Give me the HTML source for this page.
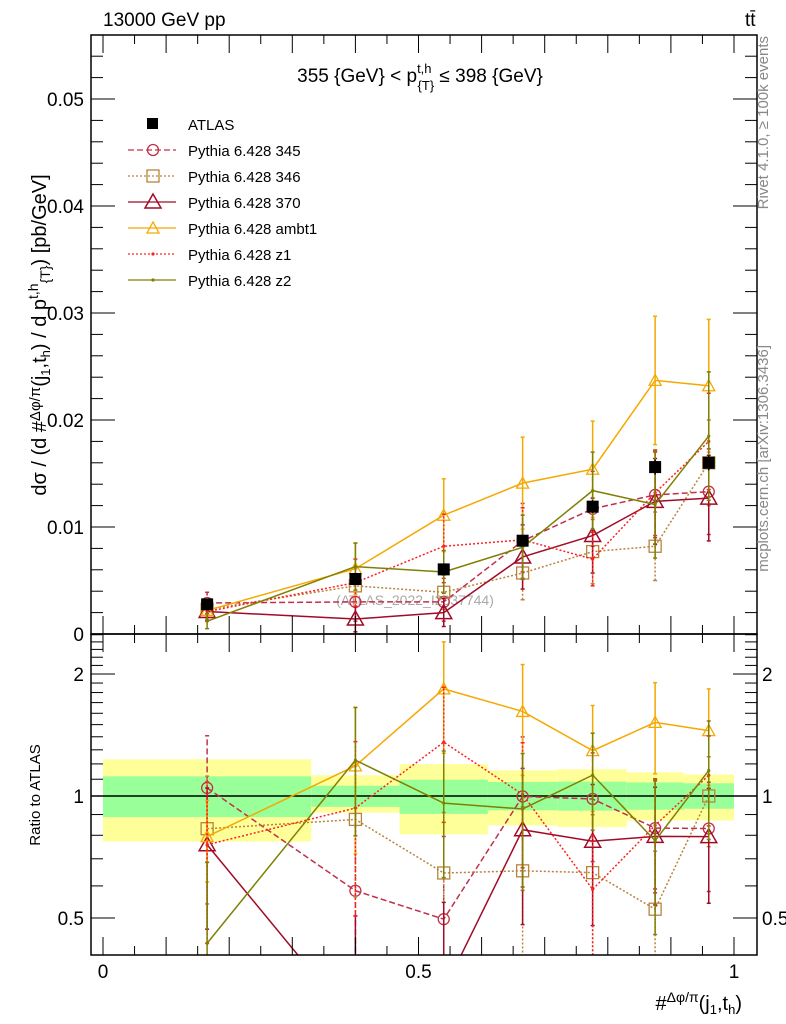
<!DOCTYPE html>
<html><head><meta charset="utf-8"><style>
html,body{margin:0;background:#fff;width:786px;height:1024px;overflow:hidden}
svg{display:block;font-family:"Liberation Sans",sans-serif}
</style></head><body>
<svg id="c" width="786" height="1024" viewBox="0 0 786 1024"></svg>
<script>
const binEdges=[0,0.33,0.47,0.61,0.72,0.83,0.92,1.0];
const xCenters=[0.165,0.40,0.54,0.665,0.776,0.875,0.96];
const atlas=[0.00277,0.00514,0.00604,0.00872,0.0119,0.0156,0.0160];
const atlasErr=[0.0003,0.0004,0.0004,0.0005,0.0006,0.0007,0.0007];
const bandYellowHi=[1.232,1.125,1.198,1.157,1.164,1.144,1.13];
const bandYellowLo=[0.772,0.91,0.804,0.846,0.838,0.87,0.87];
const bandGreenHi=[1.118,1.06,1.097,1.083,1.085,1.08,1.075];
const bandGreenLo=[0.887,0.94,0.903,0.922,0.92,0.925,0.93];
const s345=[0.0029,0.0030,0.0030,0.0087,0.0117,0.0130,0.0133];
const e345=[0.0010,0.0018,0.0018,0.0035,0.0035,0.0040,0.0040];
const s346=[0.0023,0.0045,0.0039,0.0057,0.0077,0.0082,0.0160];
const e346=[0.0008,0.0016,0.0016,0.0025,0.0030,0.0032,0.0040];
const s370=[0.0021,0.0014,0.0020,0.0072,0.0092,0.0124,0.0127];
const e370=[0.0008,0.0012,0.0013,0.0030,0.0035,0.0040,0.0040];
const sAmbt1=[0.0022,0.0061,0.0111,0.0141,0.0154,0.0237,0.0232];
const eAmbt1=[0.0005,0.0024,0.0034,0.0043,0.0045,0.0060,0.0062];
const sZ1=[0.0021,0.0048,0.0082,0.0088,0.0070,0.0132,0.0180];
const eZ1=[0.0009,0.0022,0.0030,0.0030,0.0025,0.0040,0.0045];
const sZ2=[0.0012,0.0063,0.0058,0.0081,0.0134,0.0121,0.0185];
const eZ2=[0.0007,0.0022,0.0020,0.0030,0.0036,0.0050,0.0060];
const mainTicks=[0,0.01,0.02,0.03,0.04,0.05];
const mainTickLabels=["0","0.01","0.02","0.03","0.04","0.05"];
const ratioTicks=[0.5,1,2];
const ratioTickLabels=["0.5","1","2"];
const xTicks=[0,0.5,1];
const xTickLabels=["0","0.5","1"];

const NS="http://www.w3.org/2000/svg";
const svg=document.getElementById('c');
const L=91,R=757,T=35,M=634,B=955;
const X=v=>103+631*v;
const Y=v=>634-10700*v;
const YR=r=>796-122*Math.log2(r);
function el(tag,attrs,parent){const e=document.createElementNS(NS,tag);for(const k in attrs)e.setAttribute(k,attrs[k]);(parent||svg).appendChild(e);return e;}
function txt(s,attrs,parent){const e=el('text',attrs,parent);e.textContent=s;return e;}

const defs=el('defs',{});
const c1=el('clipPath',{id:'cm'},defs);el('rect',{x:L,y:T,width:R-L,height:M-T},c1);
const c2=el('clipPath',{id:'cr'},defs);el('rect',{x:L,y:M,width:R-L,height:B-M},c2);

const bands=el('g',{'clip-path':'url(#cr)'});


for(let i=0;i<xCenters.length;i++){
  const x0=X(binEdges[i]),x1=X(binEdges[i+1]);
  const yb=el('rect',{x:x0,y:YR(bandYellowHi[i]),width:x1-x0,height:YR(bandYellowLo[i])-YR(bandYellowHi[i]),fill:'#ffff99'},bands);
  
  
  const gb=el('rect',{x:x0,y:YR(bandGreenHi[i]),width:x1-x0,height:YR(bandGreenLo[i])-YR(bandGreenHi[i]),fill:'#99ff99'},bands);
  
  
}
el('line',{x1:L,x2:R,y1:YR(1),y2:YR(1),stroke:'#000','stroke-width':1.5});

const series=[
 {name:'Pythia 6.428 345',key:'p345',v:s345,e:e345,col:'#c0304a',dash:'6,3',mk:'circle'},
 {name:'Pythia 6.428 346',key:'p346',v:s346,e:e346,col:'#b8843a',dash:'2,2',mk:'square'},
 {name:'Pythia 6.428 370',key:'p370',v:s370,e:e370,col:'#a00c28',dash:'',mk:'tri'},
 {name:'Pythia 6.428 ambt1',key:'ambt1',v:sAmbt1,e:eAmbt1,col:'#f5a800',dash:'',mk:'tris'},
 {name:'Pythia 6.428 z1',key:'z1',v:sZ1,e:eZ1,col:'#ff2020',dash:'2,2',mk:'dot'},
 {name:'Pythia 6.428 z2',key:'z2',v:sZ2,e:eZ2,col:'#7f8000',dash:'',mk:'dot'}
];
function marker(g,type,x,y,col){
  if(type==='circle')el('circle',{cx:x,cy:y,r:5.5,fill:'none',stroke:col,'stroke-width':1.3},g);
  else if(type==='square')el('rect',{x:x-6,y:y-6,width:12,height:12,fill:'none',stroke:col,'stroke-width':1.3},g);
  else if(type==='tri')el('polygon',{points:`${x},${y-8} ${x-8},${y+6} ${x+8},${y+6}`,fill:'none',stroke:col,'stroke-width':1.5},g);
  else if(type==='tris')el('polygon',{points:`${x},${y-6} ${x-6},${y+5} ${x+6},${y+5}`,fill:'none',stroke:col,'stroke-width':1.3},g);
  else el('circle',{cx:x,cy:y,r:1.6,fill:col},g);
}
function drawSeries(s,Yf,vals,errs,clip,part){
  const g=el('g',{'clip-path':clip});
  
  
  vals.forEach((v,i)=>{
    const x=X(xCenters[i]);
    const lo=Math.max(v-errs[i],1e-6),hi=v+errs[i];
    el('line',{x1:x,x2:x,y1:Yf(lo),y2:Yf(hi),stroke:s.col,'stroke-width':1.5,'stroke-dasharray':s.dash},g);
    el('line',{x1:x-2,x2:x+2,y1:Yf(hi),y2:Yf(hi),stroke:s.col,'stroke-width':1.5},g);
    el('line',{x1:x-2,x2:x+2,y1:Yf(lo),y2:Yf(lo),stroke:s.col,'stroke-width':1.5},g);
  });
  el('polyline',{points:vals.map((v,i)=>X(xCenters[i])+','+Yf(Math.max(v,1e-6))).join(' '),fill:'none',stroke:s.col,'stroke-width':1.5,'stroke-dasharray':s.dash},g);
  vals.forEach((v,i)=>marker(g,s.mk,X(xCenters[i]),Yf(v),s.col));
}
const wm=txt('(ATLAS_2022_I2037744)',{x:415,y:605,'font-size':14,fill:'#aaa','text-anchor':'middle'});


series.forEach(s=>{
  drawSeries(s,Y,s.v,s.e,'url(#cm)','main');
  drawSeries(s,YR,s.v.map((v,i)=>v/atlas[i]),s.e.map((e,i)=>e/atlas[i]),'url(#cr)','ratio');
});
const ag=el('g',{'clip-path':'url(#cm)'});


atlas.forEach((v,i)=>{const x=X(xCenters[i]);
  el('line',{x1:x,x2:x,y1:Y(v-atlasErr[i]),y2:Y(v+atlasErr[i]),stroke:'#000','stroke-width':1.5},ag);
  el('rect',{x:x-6,y:Y(v)-6,width:12,height:12,fill:'#000'},ag);});

el('rect',{x:L,y:T,width:R-L,height:M-T,fill:'none',stroke:'#000','stroke-width':1.5});
el('rect',{x:L,y:M,width:R-L,height:B-M,fill:'none',stroke:'#000','stroke-width':1.5});
const axg=el('g',{});

for(let k=0;k<=27;k++){const v=k*0.002,y=Y(v);if(y<T)break;const maj=k%5===0;const len=maj?24:12;
  el('line',{x1:L,x2:L+len,y1:y,y2:y,stroke:'#000'},axg);el('line',{x1:R-len,x2:R,y1:y,y2:y,stroke:'#000'},axg);}
mainTicks.forEach((v,i)=>{const t=txt(mainTickLabels[i],{x:84,y:Y(v)+7,'font-size':19,'text-anchor':'end'},axg);
  });
for(let k=5;k<=25;k++){const r=k/10,y=YR(r);if(y<M||y>B)continue;const maj=(k===5||k===10||k===20);const len=maj?24:12;
  el('line',{x1:L,x2:L+len,y1:y,y2:y,stroke:'#000'},axg);el('line',{x1:R-len,x2:R,y1:y,y2:y,stroke:'#000'},axg);}
ratioTicks.forEach((v,i)=>{
  const t=txt(ratioTickLabels[i],{x:84,y:YR(v)+7,'font-size':19,'text-anchor':'end'},axg);
  
  const t2=txt(ratioTickLabels[i],{x:762,y:YR(v)+7,'font-size':19},axg);
  });
for(let k=-1;k<=21;k++){const v=k*0.05,x=X(v);if(x<L||x>R)continue;const maj=k%2===0;const len=maj?18:9;
  [T,M].forEach(y0=>el('line',{x1:x,x2:x,y1:y0,y2:y0+len,stroke:'#000'},axg));
  [M,B].forEach(y0=>el('line',{x1:x,x2:x,y1:y0-len,y2:y0,stroke:'#000'},axg));}
xTicks.forEach((v,i)=>{const t=txt(xTickLabels[i],{x:X(v),y:978,'font-size':19,'text-anchor':'middle'},axg);
  });

const lg=el('g',{});

el('rect',{x:147,y:118,width:11,height:11,fill:'#000'},lg);
txt('ATLAS',{x:188,y:130,'font-size':15},lg);
series.forEach((s,i)=>{const y=150+26*i;
  const e=el('g',{},lg);
  
  el('line',{x1:128,x2:176,y1:y,y2:y,stroke:s.col,'stroke-width':1.3,'stroke-dasharray':s.dash},e);
  marker(e,s.mk,153,y,s.col);
  txt(s.name,{x:188,y:y+6,'font-size':15},e);});

function T2(s,a,name){const t=txt(s,a);return t;}
T2('13000 GeV pp',{x:103,y:26,'font-size':19},'energy-label');
T2('tt̄',{x:745,y:26,'font-size':19},'process-label');
const ti=T2('',{x:420,y:82,'font-size':19,'text-anchor':'middle'},'plot-title');
ti.innerHTML='355 {GeV} &lt; p<tspan dy="-9" font-size="13">t,h</tspan><tspan dx="-14" dy="17" font-size="13">{T}</tspan><tspan dy="-8"> ≤ 398 {GeV}</tspan>';
const yl=T2('',{x:0,y:0,'font-size':20,'text-anchor':'middle',transform:'translate(46,335) rotate(-90)'},'y-axis-title');
yl.innerHTML='dσ / (d #<tspan font-size="15" dy="-6">Δφ/π</tspan><tspan dy="6">(j</tspan><tspan font-size="13" dy="4">1</tspan><tspan dy="-4">,t</tspan><tspan font-size="13" dy="4">h</tspan><tspan dy="-4">) / d p</tspan><tspan font-size="14" dy="-8">t,h</tspan><tspan font-size="14" dy="12">{T}</tspan><tspan dy="-4">) [pb/GeV]</tspan>';
T2('Ratio to ATLAS',{x:0,y:0,'font-size':15,'text-anchor':'middle',transform:'translate(40,795) rotate(-90)'},'ratio-axis-title');
const xl=T2('',{x:742,y:1010,'font-size':20,'text-anchor':'end'},'x-axis-title');
xl.innerHTML='#<tspan font-size="14" dy="-8">Δφ/π</tspan><tspan dy="8">(j</tspan><tspan font-size="13" dy="4">1</tspan><tspan dy="-4">,t</tspan><tspan font-size="13" dy="4">h</tspan><tspan dy="-4">)</tspan>';
T2('Rivet 4.1.0, ≥ 100k events',{x:0,y:0,'font-size':15,fill:'#888','text-anchor':'end',transform:'translate(768,36) rotate(-90)'},'rivet-label');
T2('mcplots.cern.ch [arXiv:1306.3436]',{x:0,y:0,'font-size':15,fill:'#888','text-anchor':'end',transform:'translate(768,345) rotate(-90)'},'mcplots-label');
</script>
</body></html>
